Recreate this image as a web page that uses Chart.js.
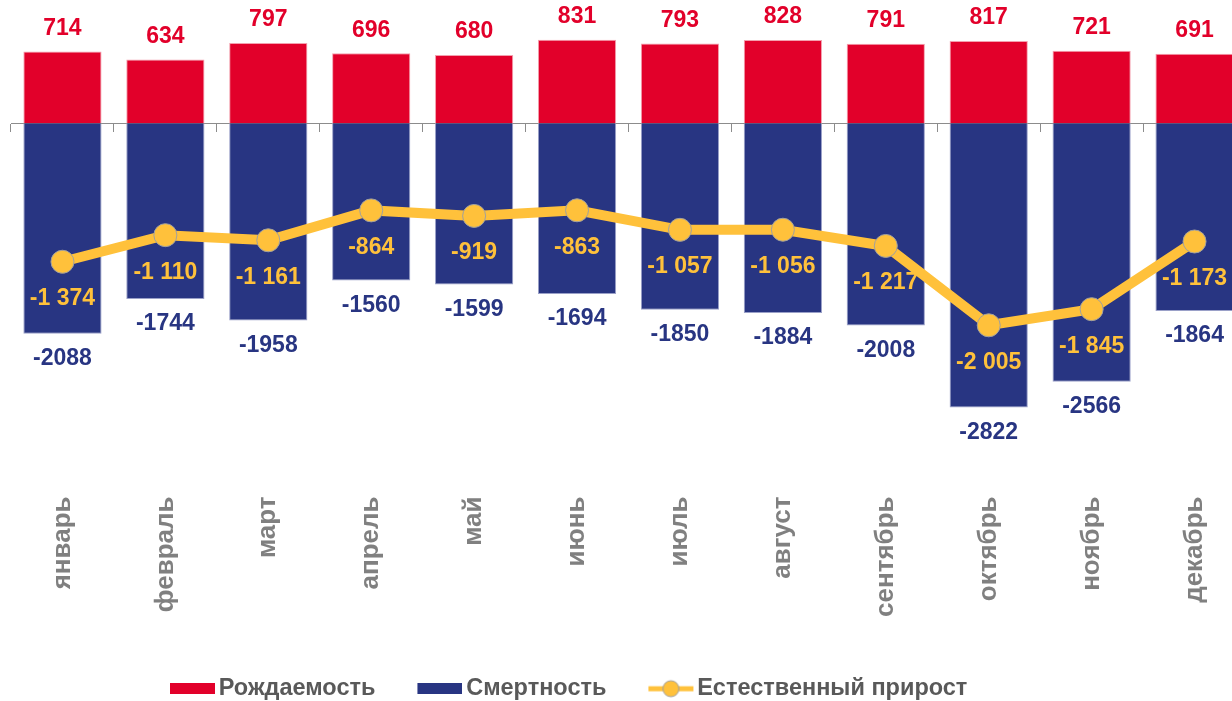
<!DOCTYPE html>
<html><head><meta charset="utf-8">
<style>html,body{margin:0;padding:0;overflow:hidden;background:#fff;width:1232px;height:701px}canvas{display:block}</style>
<script src="https://cdn.jsdelivr.net/npm/chart.js@4.4.1/dist/chart.umd.min.js"></script>
</head><body>
<canvas id="c" width="1246" height="701"></canvas>
<script>
const months = ['январь','февраль','март','апрель','май','июнь','июль','август','сентябрь','октябрь','ноябрь','декабрь'];
const births = [714,634,797,696,680,831,793,828,791,817,721,691];
const deaths = [-2088,-1744,-1958,-1560,-1599,-1694,-1850,-1884,-2008,-2822,-2566,-1864];
const naturalGrowth = [-1374,-1110,-1161,-864,-919,-863,-1057,-1056,-1217,-2005,-1845,-1173];
const seriesNames = ['Рождаемость','Смертность','Естественный прирост'];

const RED = '#E2002A', BLUE = '#283582', GOLD = '#FFC13B', LABEL_GRAY = '#808080', LEGEND_GRAY = '#595959', PT_BORDER = '#A0A0A0';
const RED_EDGE = '#F3A0AE', BLUE_EDGE = '#9AA0C8';
const FONT = '"Liberation Sans", Arial, Helvetica, sans-serif';
Chart.defaults.font.family = FONT;

function fmtSpace(v) {
  const s = Math.abs(v).toString().replace(/\B(?=(\d{3})+(?!\d))/g, ' ');
  return (v < 0 ? '-' : '') + s;
}

// legend icons: transparent lead-in, visible mark in the right part
function barIcon(color) {
  const c = document.createElement('canvas');
  c.width = 93; c.height = 11;
  const g = c.getContext('2d');
  g.fillStyle = color; g.fillRect(48, 0, 45, 11);
  return c;
}
function lineIcon() {
  const c = document.createElement('canvas');
  c.width = 95; c.height = 20;
  const g = c.getContext('2d');
  g.strokeStyle = GOLD; g.lineWidth = 5; g.lineCap = 'butt';
  g.beginPath(); g.moveTo(49, 10); g.lineTo(94, 10); g.stroke();
  g.beginPath(); g.arc(71.5, 10, 8, 0, Math.PI * 2);
  g.fillStyle = GOLD; g.fill(); g.lineWidth = 1; g.strokeStyle = PT_BORDER; g.stroke();
  return c;
}
const icons = [barIcon(RED), barIcon(BLUE), lineIcon()];

const valueLabels = {
  id: 'valueLabels',
  afterDatasetsDraw(chart) {
    const ctx = chart.ctx;
    ctx.save();
    ctx.font = 'bold 23px ' + FONT;
    ctx.textAlign = 'center';
    ctx.textBaseline = 'middle';
    chart.data.datasets.forEach((ds, i) => {
      const meta = chart.getDatasetMeta(i);
      meta.data.forEach((el, j) => {
        const v = ds.data[j];
        let y, text;
        if (ds.type === 'line') { y = el.y + 37; text = fmtSpace(v); }
        else if (v >= 0) { y = el.y - 23; text = String(v); }
        else { y = el.y + 25; text = String(v); }
        ctx.fillStyle = ds.labelColor;
        ctx.fillText(text, el.x, y);
      });
    });
    ctx.restore();
  }
};

const legendShift = {
  id: 'legendShift',
  afterLayout(chart) {
    const lg = chart.legend;
    if (!lg || !lg.lineWidths) return;
    const pad = lg.options.labels.padding;
    const lw = lg.lineWidths[0];
    const startX = 130;
    lg.left = 0;
    lg.right = 2 * startX - pad + lw;
    const h = lg.height;
    lg.top = 675;
    lg.bottom = 675 + h;
  }
};

new Chart(document.getElementById('c'), {
  data: {
    labels: months,
    datasets: [
      { type: 'bar', label: seriesNames[0], data: births, backgroundColor: RED, labelColor: RED,
        borderColor: RED_EDGE, borderWidth: { left: 1, right: 1, top: 1, bottom: 0 },
        grouped: false, categoryPercentage: 1, barPercentage: 0.76, order: 2 },
      { type: 'bar', label: seriesNames[1], data: deaths, backgroundColor: BLUE, labelColor: BLUE,
        borderColor: BLUE_EDGE, borderWidth: { left: 1, right: 1, top: 0, bottom: 1 },
        grouped: false, categoryPercentage: 1, barPercentage: 0.76, order: 3 },
      { type: 'line', label: seriesNames[2], data: naturalGrowth, borderColor: GOLD, backgroundColor: GOLD,
        labelColor: GOLD, borderWidth: 10, tension: 0, pointRadius: 11.5, pointBackgroundColor: GOLD,
        pointBorderColor: PT_BORDER, pointBorderWidth: 1, order: 1 }
    ]
  },
  options: {
    responsive: false,
    animation: false,
    layout: { autoPadding: false, padding: { left: 11, right: 0, top: 0, bottom: 0 } },
    scales: {
      x: {
        type: 'category', position: 'bottom', offset: true,
        grid: { display: false }, border: { display: false },
        ticks: { minRotation: 90, maxRotation: 90, autoSkip: false, padding: 7,
          color: LABEL_GRAY, font: { size: 26, weight: 'bold' } },
        afterFit: (s) => { s.height = 184; }
      },
      x2: {
        type: 'category', position: { y: 0 }, offset: true,
        grid: { offset: true, drawOnChartArea: false, drawTicks: true, tickLength: 8, color: '#8C8C8C', lineWidth: 1 },
        border: { display: true, color: '#8C8C8C', width: 1 },
        ticks: { display: false }
      },
      y: { display: false, min: -3556, max: 1225 }
    },
    plugins: {
      tooltip: { enabled: false },
      legend: {
        position: 'bottom',
        labels: {
          usePointStyle: true, pointStyleWidth: 77, padding: 2,
          color: LEGEND_GRAY,
          font: { size: 23.5, weight: 'bold', lineHeight: 1 },
          generateLabels: (chart) => chart.data.datasets.map((ds, i) => ({
            text: ds.label, pointStyle: icons[i], datasetIndex: i, hidden: false,
            fillStyle: ds.backgroundColor, strokeStyle: ds.backgroundColor, lineWidth: 0, fontColor: LEGEND_GRAY
          }))
        }
      }
    }
  },
  plugins: [valueLabels, legendShift]
});
</script>
</body></html>
